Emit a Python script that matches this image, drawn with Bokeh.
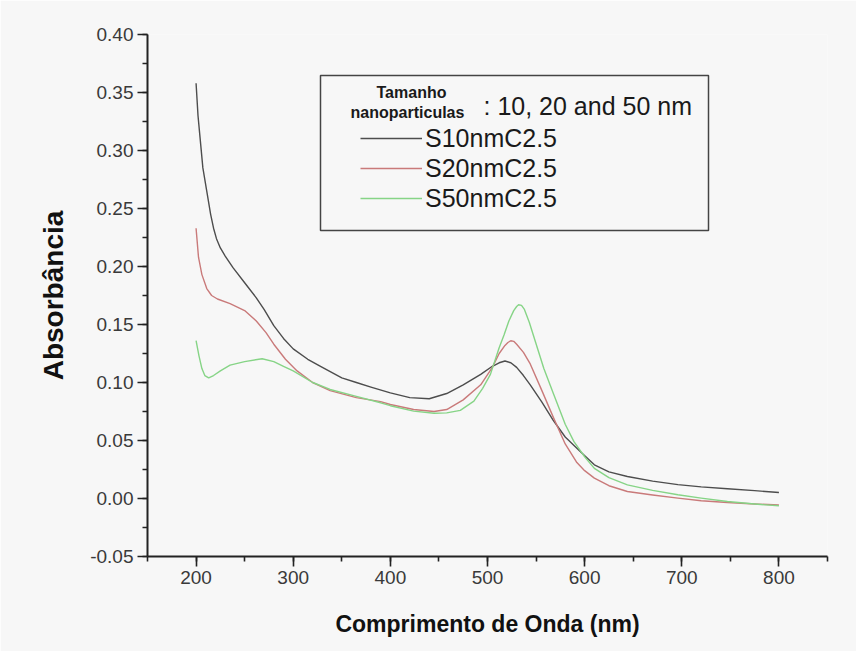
from bokeh.plotting import figure
from bokeh.models import (Range1d, SingleIntervalTicker, NumeralTickFormatter,
                          Legend, LegendItem, Label, BoxAnnotation)
from bokeh.embed import file_html
from bokeh.resources import INLINE

# UV-Vis absorbance spectra of silver nanoparticle suspensions
wl_s10 = [200, 202, 204, 207, 211, 215, 218, 221, 225, 230, 238, 250, 262, 270,
          280, 290, 300, 315, 330, 350, 365, 380, 400, 420, 440, 458, 475, 493,
          505, 512, 518, 524, 530, 537, 544, 556, 568, 580, 596, 610, 625, 644,
          670, 696, 720, 747, 775, 800]
abs_s10 = [0.358, 0.330, 0.312, 0.285, 0.265, 0.245, 0.233, 0.224, 0.216, 0.209,
           0.199, 0.186, 0.173, 0.163, 0.149, 0.138, 0.129, 0.120, 0.113, 0.104,
           0.100, 0.096, 0.091, 0.087, 0.086, 0.0905, 0.098, 0.107, 0.114, 0.117,
           0.1185, 0.117, 0.113, 0.106, 0.098, 0.083, 0.067, 0.053, 0.040, 0.029,
           0.023, 0.019, 0.015, 0.012, 0.010, 0.0084, 0.0068, 0.0052]

wl_s20 = [200, 202.5, 206, 211, 216, 222, 235, 250, 262, 272, 280, 292, 304, 320,
          338, 365, 390, 400, 424, 445, 458, 475, 493, 505, 512, 518, 521, 524,
          527, 530, 537, 544, 556, 568, 580, 592, 600, 610, 625, 644, 670, 696,
          720, 747, 775, 800]
abs_s20 = [0.233, 0.208, 0.193, 0.181, 0.175, 0.172, 0.168, 0.162, 0.153, 0.143,
           0.133, 0.120, 0.110, 0.100, 0.093, 0.087, 0.0835, 0.081, 0.0767, 0.075,
           0.0767, 0.085, 0.098, 0.113, 0.125, 0.132, 0.1345, 0.136, 0.1355, 0.133,
           0.126, 0.116, 0.093, 0.0695, 0.047, 0.031, 0.024, 0.0176, 0.011, 0.006,
           0.003, 0.0003, -0.002, -0.0035, -0.0048, -0.0055]

wl_s50 = [200, 203, 206, 209, 213, 218, 225, 235, 250, 268, 280, 290, 300, 320,
          338, 365, 390, 400, 424, 445, 458, 472, 486, 495, 503, 512, 517, 522,
          527, 530, 532, 535, 538, 543, 549, 558, 568, 580, 589, 600, 610, 625,
          644, 670, 696, 720, 747, 775, 800]
abs_s50 = [0.136, 0.123, 0.112, 0.106, 0.104, 0.106, 0.110, 0.115, 0.118, 0.1205,
           0.118, 0.114, 0.110, 0.100, 0.094, 0.088, 0.0825, 0.080, 0.0753, 0.0735,
           0.0738, 0.076, 0.0839, 0.095, 0.107, 0.130, 0.141, 0.153, 0.162, 0.1655,
           0.167, 0.1665, 0.163, 0.152, 0.136, 0.112, 0.090, 0.064, 0.049, 0.036,
           0.026, 0.018, 0.0118, 0.007, 0.0032, 0.0003, -0.0026, -0.0048, -0.0063]

series_names = ["S10nmC2.5", "S20nmC2.5", "S50nmC2.5"]
series_colors = ["#4d4d4d", "#c97a7a", "#86d486"]

x_ticks_interval = 100
y_ticks_interval = 0.05

FONT = "Liberation Sans"
BG = "#f7f7f7"

# frame geometry in canvas pixels
F_LEFT, F_RIGHT, F_TOP, F_BOTTOM = 147, 827, 34, 556
X0, X1, Y0, Y1 = 150, 850, -0.05, 0.40


def px_x(px):
    return X0 + (px - F_LEFT) * (X1 - X0) / (F_RIGHT - F_LEFT)


def px_y(py):
    return Y0 + (F_BOTTOM - py) * (Y1 - Y0) / (F_BOTTOM - F_TOP)


p = figure(width=856, height=651, output_backend="svg", toolbar_location=None,
           x_range=Range1d(X0, X1), y_range=Range1d(Y0 - 1e-7, Y1 + 1e-7),
           min_border_left=F_LEFT, min_border_right=856 - F_RIGHT,
           min_border_top=F_TOP, min_border_bottom=651 - F_BOTTOM)

p.background_fill_color = BG
p.border_fill_color = BG
p.outline_line_color = None
p.grid.visible = False

p.xaxis.ticker = SingleIntervalTicker(interval=x_ticks_interval, num_minor_ticks=2)
p.yaxis.ticker = SingleIntervalTicker(interval=y_ticks_interval, num_minor_ticks=2)
p.yaxis.formatter = NumeralTickFormatter(format="0.00")

for ax in (p.xaxis, p.yaxis):
    ax.axis_line_width = 2
    ax.axis_line_color = "#222222"
    ax.major_tick_line_color = "#222222"
    ax.minor_tick_line_color = "#222222"
    ax.major_tick_line_width = 1.6
    ax.minor_tick_line_width = 1.6
    ax.major_tick_in = 0
    ax.major_tick_out = 10
    ax.minor_tick_in = 0
    ax.minor_tick_out = 5
    ax.major_label_text_font = FONT
    ax.major_label_text_font_size = "19px"
    ax.major_label_text_color = "#3a3a3a"
    ax.major_label_standoff = 4
    ax.axis_label_text_font = FONT
    ax.axis_label_text_font_style = "bold"
    ax.axis_label_text_color = "#111111"

p.xaxis.axis_label = "Comprimento de Onda (nm)"
p.xaxis.axis_label_text_font_size = "23px"
p.xaxis.axis_label_standoff = 24
p.yaxis.axis_label = "Absorbância"
p.yaxis.axis_label_text_font_size = "28px"
p.yaxis.axis_label_standoff = 18

renderers = []
for wl, ab, color in zip([wl_s10, wl_s20, wl_s50], [abs_s10, abs_s20, abs_s50],
                         series_colors):
    r = p.line(wl, ab, line_color=color, line_width=1.4, line_join="round")
    renderers.append(r)

# legend frame and header
p.add_layout(BoxAnnotation(left=px_x(320), right=px_x(708),
                           top=px_y(75), bottom=px_y(230),
                           fill_alpha=0, line_color="#444444", line_alpha=1,
                           line_width=1.5))

header = [("Tamanho", 411, 92, "16px", "bold", "center"),
          ("nanoparticulas", 407, 112, "16px", "bold", "center"),
          (": 10, 20 and 50 nm", 483, 105, "25px", "normal", "left")]
for txt, hx, hy, size, style, align in header:
    p.add_layout(Label(x=px_x(hx), y=px_y(hy), text=txt, text_font=FONT,
                       text_font_size=size, text_font_style=style,
                       text_align=align, text_baseline="middle",
                       text_color="#1a1a1a"))

legend = Legend(items=[LegendItem(label=n, renderers=[r])
                       for n, r in zip(series_names, renderers)],
                location=(360 - F_LEFT, F_BOTTOM - 213),
                glyph_width=62, glyph_height=30, label_height=30,
                label_standoff=3, spacing=0, padding=0, margin=0,
                label_text_font=FONT, label_text_font_size="25px",
                label_text_color="#1a1a1a",
                border_line_alpha=0, background_fill_alpha=0)
p.add_layout(legend)

open("out.html", "w").write(file_html(p, INLINE))
